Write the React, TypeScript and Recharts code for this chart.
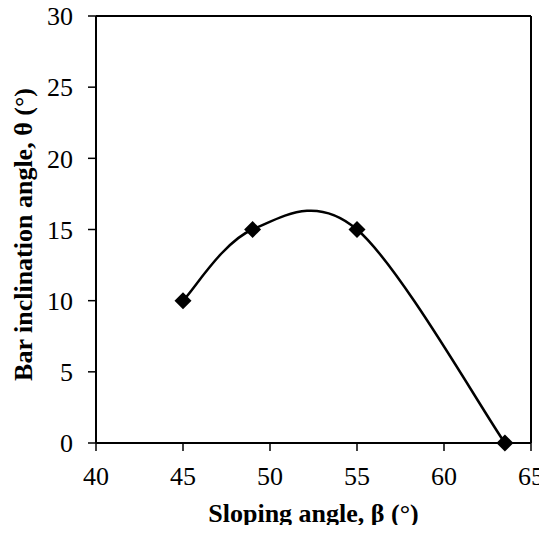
import React from 'react';
import { LineChart, Line, XAxis, YAxis, ReferenceLine } from 'recharts';

const slopingAngles = [45, 49, 55, 63.5];
const inclinationAngles = [10, 15, 15, 0];
const xTicks = [40, 45, 50, 55, 60, 65];
const yTicks = [0, 5, 10, 15, 20, 25, 30];
const xTitle = 'Sloping angle, β (°)';
const yTitle = 'Bar inclination angle, θ (°)';

const data = slopingAngles.map((x, i) => ({ x, y: inclinationAngles[i] }));

function smoothCurve(context: any) {
  let pts: number[][] = [];
  return {
    areaStart() {},
    areaEnd() {},
    lineStart() {
      pts = [];
    },
    point(x: number, y: number) {
      pts.push([+x, +y]);
    },
    lineEnd() {
      const n = pts.length;
      if (!n) return;
      context.moveTo(pts[0][0], pts[0][1]);
      for (let i = 0; i < n - 1; i++) {
        const p0 = pts[Math.max(i - 1, 0)];
        const p1 = pts[i];
        const p2 = pts[i + 1];
        const p3 = pts[Math.min(i + 2, n - 1)];
        context.bezierCurveTo(
          p1[0] + (p2[0] - p0[0]) / 6,
          p1[1] + (p2[1] - p0[1]) / 6,
          p2[0] - (p3[0] - p1[0]) / 6,
          p2[1] - (p3[1] - p1[1]) / 6,
          p2[0],
          p2[1]
        );
      }
    },
  };
}

const Diamond = (props: any) => {
  const { cx, cy } = props;
  if (cx == null || cy == null) return null;
  const r = 8.5;
  return (
    <polygon
      points={`${cx},${cy - r} ${cx + r},${cy} ${cx},${cy + r} ${cx - r},${cy}`}
      fill="#000"
      stroke="none"
    />
  );
};

const FONT = 'Liberation Serif';

const XTitle = (props: any) => {
  const vb = props.viewBox || {};
  const x = vb.x + vb.width / 2;
  const y = vb.y + vb.height - 11;
  return (
    <text x={x} y={y} textAnchor="middle" fill="#000" fontSize={26} fontWeight="bold" fontFamily={FONT}>
      {xTitle}
    </text>
  );
};

const YTitle = (props: any) => {
  const vb = props.viewBox || {};
  const x = vb.x + 32;
  const y = vb.y + vb.height / 2 + 5;
  return (
    <text
      x={x}
      y={y}
      transform={`rotate(-90 ${x} ${y})`}
      textAnchor="middle"
      fill="#000"
      fontSize={26}
      fontWeight="bold"
      fontFamily={FONT}
    >
      {yTitle}
    </text>
  );
};

export default function App() {
  return (
    <div style={{ margin: -8, fontFamily: FONT }}>
      <LineChart
        width={547}
        height={533}
        data={data}
        margin={{ top: 16, right: 16, bottom: 0, left: 0 }}
        style={{ fontFamily: FONT, overflow: 'visible' }}
      >
        <XAxis
          dataKey="x"
          type="number"
          domain={[40, 65]}
          ticks={xTicks}
          interval={0}
          height={90}
          axisLine={{ stroke: '#000', strokeWidth: 2 }}
          tickLine={{ stroke: '#000', strokeWidth: 1.5 }}
          tickSize={8}
          tickMargin={16}
          tick={{ fill: '#000', fontSize: 26, fontFamily: FONT }}
          label={<XTitle />}
        />
        <YAxis
          dataKey="y"
          type="number"
          domain={[0, 30]}
          ticks={yTicks}
          interval={0}
          width={96}
          axisLine={{ stroke: '#000', strokeWidth: 2 }}
          tickLine={{ stroke: '#000', strokeWidth: 1.5 }}
          tickSize={8}
          tickMargin={15}
          tick={{ fill: '#000', fontSize: 26, fontFamily: FONT }}
          label={<YTitle />}
        />
        <ReferenceLine y={30} stroke="#000" strokeWidth={2} />
        <ReferenceLine x={65} stroke="#000" strokeWidth={2} />
        <Line
          dataKey="y"
          type={smoothCurve as any}
          stroke="#000"
          strokeWidth={2.5}
          dot={<Diamond />}
          activeDot={false}
          isAnimationActive={false}
        />
      </LineChart>
    </div>
  );
}
